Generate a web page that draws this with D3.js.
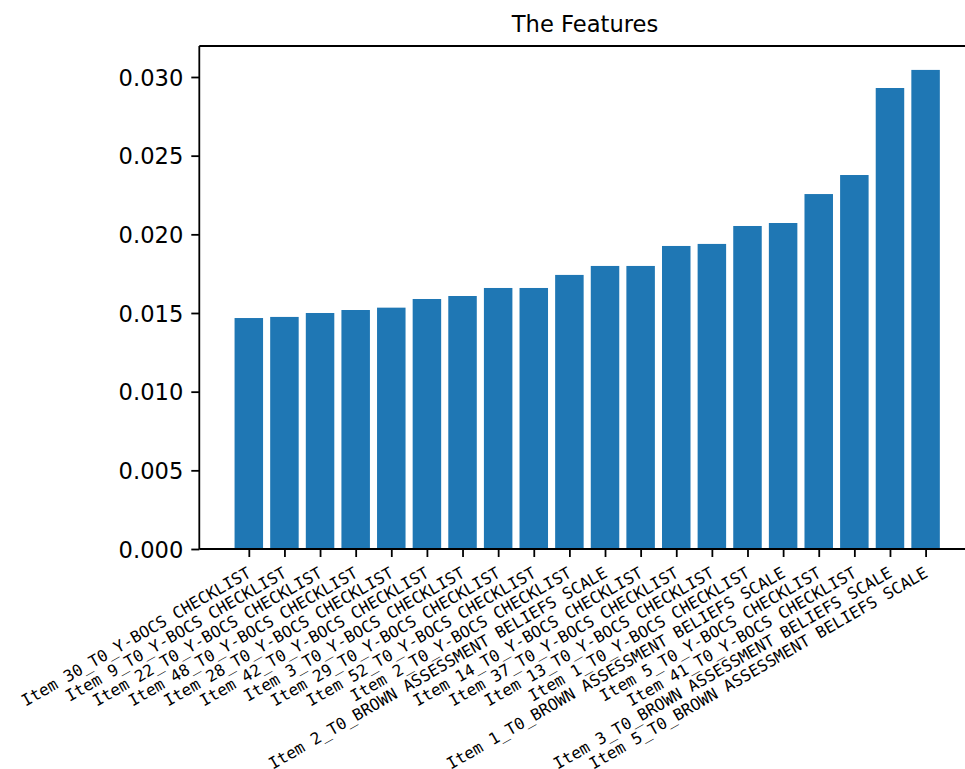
<!DOCTYPE html>
<html>
<head>
<meta charset="utf-8">
<script src="https://cdn.jsdelivr.net/npm/d3@7"></script>
<style>
  html, body { margin: 0; padding: 0; background: #ffffff; }
  svg { display: block; }
</style>
</head>
<body>
<svg id="chart" width="965" height="769"></svg>
<script>
// Feature names, in ascending order of importance
const categories = [
  "Item 30_T0_Y-BOCS CHECKLIST",
  "Item 9_T0_Y-BOCS CHECKLIST",
  "Item 22_T0_Y-BOCS CHECKLIST",
  "Item 48_T0_Y-BOCS CHECKLIST",
  "Item 28_T0_Y-BOCS CHECKLIST",
  "Item 42_T0_Y-BOCS CHECKLIST",
  "Item 3_T0_Y-BOCS CHECKLIST",
  "Item 29_T0_Y-BOCS CHECKLIST",
  "Item 52_T0_Y-BOCS CHECKLIST",
  "Item 2_T0_Y-BOCS CHECKLIST",
  "Item 2_T0_BROWN ASSESSMENT BELIEFS SCALE",
  "Item 14_T0_Y-BOCS CHECKLIST",
  "Item 37_T0_Y-BOCS CHECKLIST",
  "Item 13_T0_Y-BOCS CHECKLIST",
  "Item 1_T0_Y-BOCS CHECKLIST",
  "Item 1_T0_BROWN ASSESSMENT BELIEFS SCALE",
  "Item 5_T0_Y-BOCS CHECKLIST",
  "Item 41_T0_Y-BOCS CHECKLIST",
  "Item 3_T0_BROWN ASSESSMENT BELIEFS SCALE",
  "Item 5_T0_BROWN ASSESSMENT BELIEFS SCALE"
];

// Importance score of each feature
const importances = [
  0.01468, 0.01475, 0.01500, 0.01519, 0.01534,
  0.01589, 0.01608, 0.01659, 0.01659, 0.01742,
  0.01799, 0.01799, 0.01926, 0.01939, 0.02053,
  0.02072, 0.02256, 0.02377, 0.02930, 0.03045
];

// Y-axis tick values
const yTicks = [0.000, 0.005, 0.010, 0.015, 0.020, 0.025, 0.030];

const title = "The Features";

const svg = d3.select("#chart");

const plotLeft = 199.3, plotTop = 46, plotBottom = 549;
const unit = 35.62;              // pixels per category step
const barWidth = 0.8;            // bar width in category units
const xMin = -0.4 - 0.05 * 19.8; // padded domain, as with 5% margins
const xMax = 19.4 + 0.05 * 19.8;
const plotRight = plotLeft + (xMax - xMin) * unit;

const x = d3.scaleLinear().domain([xMin, xMax]).range([plotLeft, plotRight]);
const y = d3.scaleLinear().domain([0, 0.03197]).range([plotBottom, plotTop]);

// Bars
svg.append("g")
  .selectAll("rect")
  .data(importances)
  .join("rect")
  .attr("x", (d, i) => x(i - barWidth / 2))
  .attr("width", (d, i) => x(i + barWidth / 2) - x(i - barWidth / 2))
  .attr("y", d => y(d))
  .attr("height", d => y(0) - y(d))
  .attr("fill", "#1f77b4");

// Axes frame
const frame = svg.append("g")
  .attr("fill", "none")
  .attr("stroke", "#000")
  .attr("stroke-width", 1.8);
frame.append("line").attr("x1", plotLeft).attr("x2", plotLeft).attr("y1", plotTop).attr("y2", plotBottom);
frame.append("line").attr("x1", plotLeft).attr("x2", plotRight).attr("y1", plotTop).attr("y2", plotTop);
frame.append("line").attr("x1", plotLeft).attr("x2", plotRight).attr("y1", plotBottom).attr("y2", plotBottom);
frame.append("line").attr("x1", plotRight).attr("x2", plotRight).attr("y1", plotTop).attr("y2", plotBottom);

// Y axis
const yAxis = svg.append("g")
  .attr("transform", `translate(${plotLeft},0)`)
  .call(d3.axisLeft(y)
    .tickValues(yTicks)
    .tickFormat(d3.format(".3f"))
    .tickSize(8)
    .tickSizeOuter(0)
    .tickPadding(8));
yAxis.select(".domain").remove();
yAxis.selectAll(".tick line").attr("stroke-width", 1.8);
yAxis.selectAll(".tick text")
  .attr("font-family", "'DejaVu Sans', sans-serif")
  .attr("font-size", 22.6)
  .attr("fill", "#000")
  .attr("dy", "0.36em");

// X axis with rotated category labels
const xAxis = svg.append("g")
  .attr("transform", `translate(0,${plotBottom})`)
  .call(d3.axisBottom(x)
    .tickValues(d3.range(categories.length))
    .tickFormat(i => categories[i])
    .tickSize(8)
    .tickSizeOuter(0));
xAxis.select(".domain").remove();
xAxis.selectAll(".tick line").attr("stroke-width", 1.8);
xAxis.selectAll(".tick text")
  .attr("font-family", "'DejaVu Sans Mono', monospace")
  .attr("font-size", 16.1)
  .attr("fill", "#000")
  .attr("text-anchor", "end")
  .attr("x", 0)
  .attr("y", 0)
  .attr("dy", "0.72em")
  .attr("transform", "translate(-3,17) rotate(-30)");

// Title
svg.append("text")
  .attr("x", 585)
  .attr("y", 31.7)
  .attr("text-anchor", "middle")
  .attr("font-family", "'DejaVu Sans', sans-serif")
  .attr("font-size", 22.6)
  .attr("fill", "#000")
  .text(title);
</script>
</body>
</html>
